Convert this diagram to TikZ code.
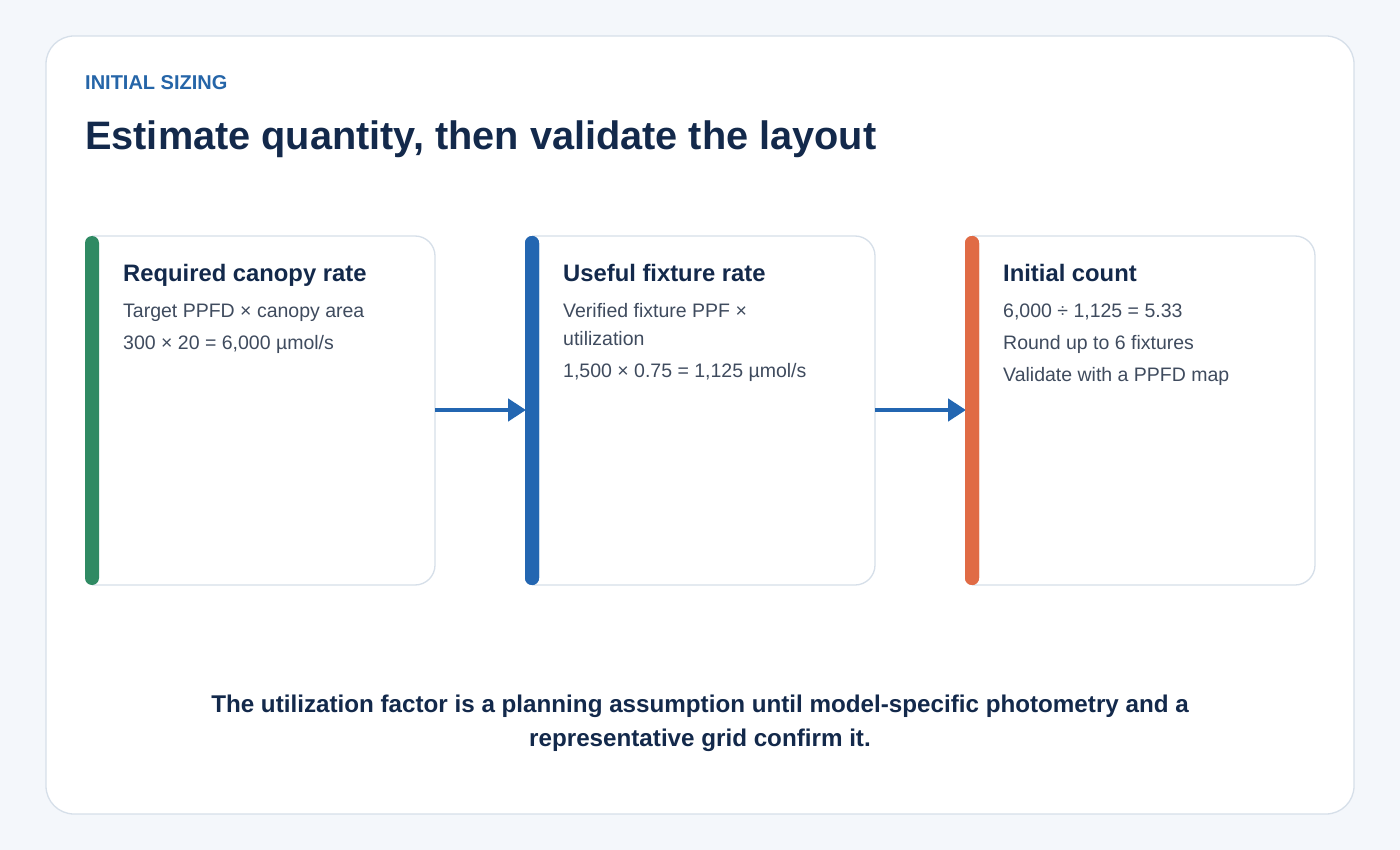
\documentclass[tikz,border=0pt]{standalone}
\usepackage{fontspec}
\setmainfont{Liberation Sans}
\usetikzlibrary{arrows.meta}
\definecolor{bgc}{HTML}{F4F7FB}
\definecolor{bordc}{HTML}{D6DFE9}
\definecolor{navy}{HTML}{13294B}
\definecolor{bodyc}{HTML}{3F4B5E}
\definecolor{eyeb}{HTML}{2565A8}
\definecolor{greenc}{HTML}{2F8A63}
\definecolor{bluec}{HTML}{2366B1}
\definecolor{orangec}{HTML}{E06B45}
\tikzset{
  cardline/.style={draw=bordc, line width=1.3pt, fill=white, rounded corners=20pt},
  accentbar/.style={rounded corners=7pt},
  ctitle/.style={anchor=base west, inner sep=0pt, text=navy, font=\fontsize{23.8}{28}\selectfont\bfseries},
  cbody/.style={anchor=base west, inner sep=0pt, text=bodyc, font=\fontsize{19.5}{23}\selectfont},
  flow/.style={draw=bluec, line width=4.5pt, -{Triangle[length=18pt,width=22pt]}, shorten >=-1pt},
}
\begin{document}
\begin{tikzpicture}[x=1pt,y=-1pt]
\useasboundingbox (0,0) rectangle (1400,850);
\fill[bgc] (0,0) rectangle (1400,850);
\draw[draw=bordc, line width=1.3pt, fill=white, rounded corners=28pt] (46,36) rectangle (1354,814);
\node[anchor=base west, inner sep=0pt, text=eyeb, font=\fontsize{20}{24}\selectfont\bfseries] (eyebrow) at (85,89.5) {INITIAL SIZING};
\node[anchor=base west, inner sep=0pt, text=navy, font=\fontsize{39.7}{46}\selectfont\bfseries] (title) at (85,150) {Estimate quantity, then validate the layout};
% cards
\foreach \x/\c/\n in {85/greenc/a,525/bluec/b,965/orangec/c}{
  \draw[cardline] (\x+7,236) -- (\x+350,236) -- (\x+350,585) -- (\x+7,585);
  \fill[\c, accentbar] (\x,236) rectangle (\x+14,585);
  \coordinate (\n L) at (\x,410);
  \coordinate (\n R) at (\x+350,410);
}
\node[ctitle] (t1) at (123,281.5) {Required canopy rate};
\node[cbody] (b11) at (123,317) {Target PPFD × canopy area};
\node[cbody] (b12) at (123,349) {300 × 20 = 6,000 µmol/s};
\node[ctitle] (t2) at (563,281.5) {Useful fixture rate};
\node[cbody] (b21) at (563,317) {Verified fixture PPF ×};
\node[cbody] (b22) at (563,345) {utilization};
\node[cbody] (b23) at (563,377) {1,500 × 0.75 = 1,125 µmol/s};
\node[ctitle] (t3) at (1003,281.5) {Initial count};
\node[cbody] (b31) at (1003,317) {6,000 ÷ 1,125 = 5.33};
\node[cbody] (b32) at (1003,349) {Round up to 6 fixtures};
\node[cbody] (b33) at (1003,381) {Validate with a PPFD map};
\draw[flow] (aR) -- (bL);
\draw[flow] (bR) -- (cL);
\fill[bluec, accentbar] (525,236) rectangle (539,585);
\fill[orangec, accentbar] (965,236) rectangle (979,585);
\node[anchor=base, inner sep=0pt, text=navy, font=\fontsize{24.2}{28}\selectfont\bfseries] (foot1) at (700,712) {The utilization factor is a planning assumption until model-specific photometry and a};
\node[anchor=base, inner sep=0pt, text=navy, font=\fontsize{24.2}{28}\selectfont\bfseries] (foot2) at (700,746) {representative grid confirm it.};
\end{tikzpicture}
\end{document}
